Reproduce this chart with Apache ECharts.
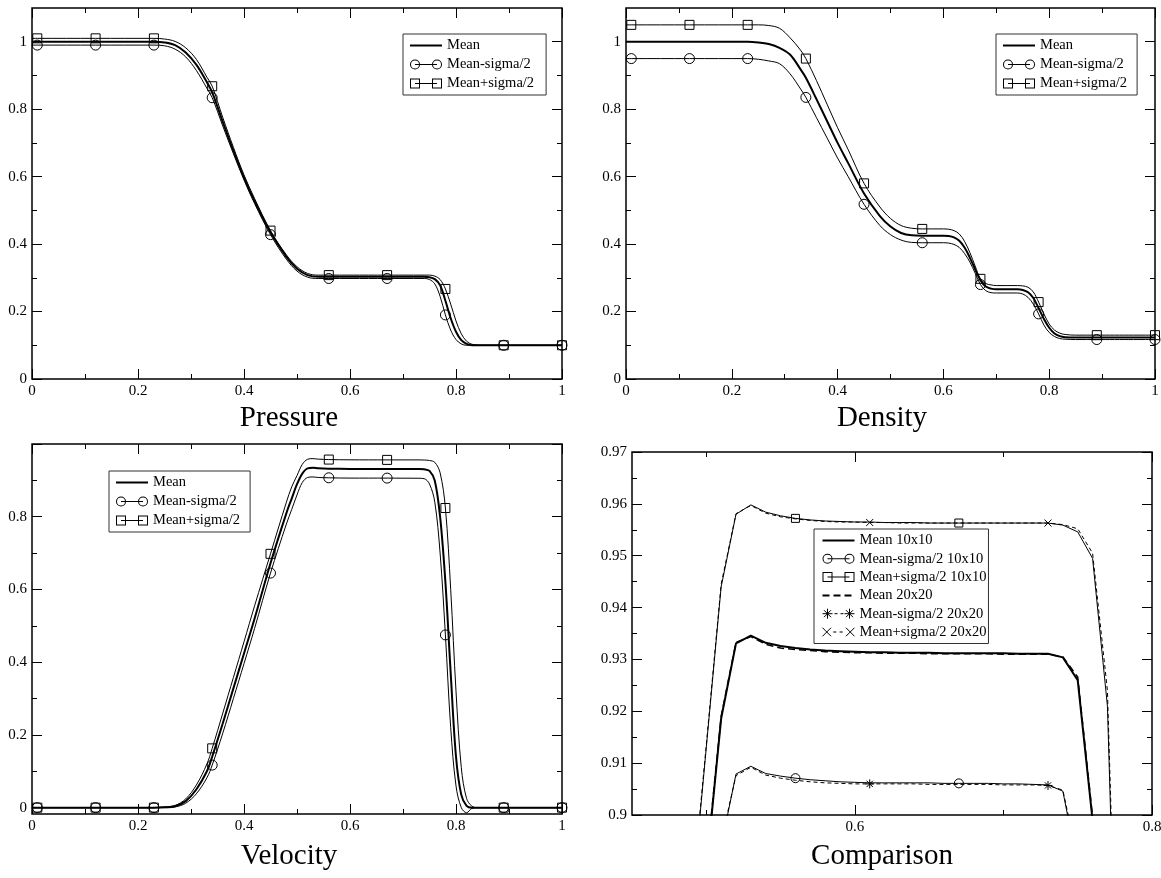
<!DOCTYPE html>
<html><head><meta charset="utf-8">
<script src="https://cdn.jsdelivr.net/npm/echarts@6/dist/echarts.min.js"></script>
<style>html,body{margin:0;padding:0;background:#fff;}#c{width:1161px;height:878px;}</style>
</head><body><div id="c"></div>
<script>
// ---------------- DATA ----------------
const MARK_X = [0.01, 0.12, 0.23, 0.34, 0.45, 0.56, 0.67, 0.78, 0.89, 1.0];

const P_X     = [0, 0.01, 0.12, 0.23, 0.25, 0.27, 0.29, 0.31, 0.33, 0.34, 0.36, 0.38, 0.40, 0.42, 0.45, 0.48, 0.50, 0.52, 0.54, 0.56, 0.60, 0.67, 0.70, 0.74, 0.75, 0.76, 0.77, 0.78, 0.79, 0.80, 0.81, 0.82, 0.83, 0.85, 0.89, 0.95, 1.0];
const P_MEAN  = [1, 1, 1, 1, 0.998, 0.99, 0.968, 0.932, 0.88, 0.85, 0.762, 0.677, 0.597, 0.527, 0.435, 0.362, 0.327, 0.308, 0.303, 0.303, 0.303, 0.303, 0.303, 0.303, 0.302, 0.296, 0.278, 0.232, 0.18, 0.14, 0.115, 0.104, 0.1, 0.1, 0.1, 0.1, 0.1];
const P_MINUS = [0.99, 0.99, 0.99, 0.99, 0.988, 0.978, 0.955, 0.915, 0.862, 0.834, 0.75, 0.668, 0.59, 0.52, 0.428, 0.355, 0.32, 0.302, 0.298, 0.298, 0.298, 0.298, 0.298, 0.298, 0.295, 0.282, 0.245, 0.19, 0.145, 0.117, 0.104, 0.1, 0.1, 0.1, 0.1, 0.1, 0.1];
const P_PLUS  = [1.01, 1.01, 1.01, 1.01, 1.008, 1.001, 0.982, 0.948, 0.895, 0.868, 0.775, 0.687, 0.605, 0.535, 0.44, 0.368, 0.333, 0.313, 0.308, 0.308, 0.308, 0.308, 0.308, 0.308, 0.308, 0.305, 0.295, 0.267, 0.222, 0.172, 0.134, 0.112, 0.103, 0.1, 0.1, 0.1, 0.1];

const D_X     = [0, 0.01, 0.12, 0.23, 0.25, 0.27, 0.29, 0.31, 0.33, 0.34, 0.36, 0.38, 0.40, 0.42, 0.45, 0.48, 0.50, 0.52, 0.54, 0.56, 0.60, 0.61, 0.62, 0.63, 0.64, 0.65, 0.66, 0.67, 0.68, 0.69, 0.70, 0.74, 0.75, 0.76, 0.77, 0.78, 0.79, 0.80, 0.81, 0.82, 0.83, 0.85, 0.89, 1.0];
const D_MEAN  = [1, 1, 1, 1, 0.998, 0.993, 0.982, 0.962, 0.918, 0.893, 0.83, 0.765, 0.70, 0.64, 0.55, 0.483, 0.452, 0.433, 0.426, 0.425, 0.425, 0.424, 0.42, 0.41, 0.39, 0.36, 0.325, 0.293, 0.274, 0.268, 0.266, 0.266, 0.264, 0.257, 0.24, 0.21, 0.178, 0.152, 0.135, 0.127, 0.124, 0.123, 0.123, 0.123];
const D_MINUS = [0.95, 0.95, 0.95, 0.95, 0.948, 0.943, 0.935, 0.905, 0.86, 0.835, 0.775, 0.715, 0.655, 0.6, 0.518, 0.455, 0.428, 0.412, 0.405, 0.404, 0.404, 0.403, 0.399, 0.39, 0.372, 0.347, 0.314, 0.28, 0.262, 0.256, 0.255, 0.255, 0.252, 0.242, 0.222, 0.193, 0.16, 0.138, 0.126, 0.12, 0.118, 0.117, 0.117, 0.117];
const D_PLUS  = [1.05, 1.05, 1.05, 1.05, 1.05, 1.048, 1.04, 1.012, 0.975, 0.95, 0.885, 0.815, 0.745, 0.68, 0.58, 0.51, 0.476, 0.455, 0.447, 0.445, 0.445, 0.444, 0.44, 0.43, 0.408, 0.375, 0.335, 0.297, 0.283, 0.279, 0.277, 0.277, 0.276, 0.272, 0.258, 0.228, 0.193, 0.163, 0.145, 0.136, 0.132, 0.13, 0.13, 0.13];

const V_X     = [0, 0.01, 0.12, 0.23, 0.25, 0.27, 0.29, 0.31, 0.33, 0.34, 0.36, 0.38, 0.40, 0.42, 0.45, 0.48, 0.49, 0.50, 0.51, 0.52, 0.53, 0.54, 0.56, 0.60, 0.67, 0.70, 0.73, 0.74, 0.75, 0.76, 0.77, 0.78, 0.79, 0.80, 0.81, 0.82, 0.83, 0.84, 0.85, 0.89, 0.95, 1.0];
const V_MEAN  = [0, 0, 0, 0, 0.001, 0.004, 0.018, 0.05, 0.1, 0.14, 0.232, 0.328, 0.424, 0.52, 0.672, 0.81, 0.85, 0.8895, 0.9186, 0.9331, 0.9346, 0.9332, 0.9322, 0.9315, 0.9312, 0.9312, 0.9311, 0.9304, 0.926, 0.899, 0.80, 0.62, 0.37, 0.14, 0.035, 0.005, 0, 0, 0, 0, 0, 0];
const V_MINUS = [0, 0, 0, 0, 0, 0.002, 0.012, 0.038, 0.082, 0.117, 0.205, 0.3, 0.396, 0.493, 0.645, 0.78, 0.82, 0.86, 0.894, 0.9079, 0.9094, 0.908, 0.9071, 0.9062, 0.9062, 0.906, 0.9058, 0.9046, 0.89, 0.84, 0.70, 0.475, 0.22, 0.06, 0.0, -0.014, -0.002, 0, 0, 0, 0, 0];
const V_PLUS  = [0, 0, 0, 0, 0.002, 0.006, 0.024, 0.062, 0.12, 0.163, 0.26, 0.358, 0.456, 0.555, 0.698, 0.84, 0.882, 0.913, 0.944, 0.958, 0.9598, 0.9584, 0.9572, 0.9565, 0.9563, 0.9563, 0.9563, 0.9559, 0.9546, 0.9495, 0.921, 0.824, 0.60, 0.32, 0.11, 0.025, 0.004, 0, 0, 0, 0, 0];

const C_X       = [0.48, 0.49, 0.50, 0.51, 0.52, 0.53, 0.54, 0.55, 0.56, 0.57, 0.58, 0.59, 0.60, 0.61, 0.62, 0.63, 0.64, 0.65, 0.66, 0.67, 0.68, 0.69, 0.70, 0.71, 0.72, 0.73, 0.74, 0.75, 0.76, 0.77, 0.78, 0.79];
const C_MEAN10  = [0.81, 0.85, 0.8895, 0.9186, 0.9331, 0.9346, 0.9332, 0.9326, 0.9322, 0.9319, 0.9317, 0.9316, 0.9315, 0.9314, 0.9314, 0.9313, 0.9313, 0.9313, 0.9312, 0.9312, 0.9312, 0.9312, 0.9312, 0.9311, 0.9311, 0.9311, 0.9304, 0.926, 0.899, 0.80, 0.62, 0.37];
const C_MINUS10 = [0.78, 0.82, 0.86, 0.894, 0.9079, 0.9094, 0.908, 0.9075, 0.9071, 0.9068, 0.9066, 0.9064, 0.9063, 0.9062, 0.9062, 0.9062, 0.9062, 0.9062, 0.9061, 0.9061, 0.9061, 0.9061, 0.906, 0.906, 0.9059, 0.9058, 0.9046, 0.89, 0.84, 0.70, 0.475, 0.22];
const C_PLUS10  = [0.84, 0.882, 0.913, 0.944, 0.958, 0.9598, 0.9584, 0.9577, 0.9572, 0.9569, 0.9567, 0.9566, 0.9565, 0.9565, 0.9564, 0.9564, 0.9564, 0.9563, 0.9563, 0.9563, 0.9563, 0.9563, 0.9563, 0.9563, 0.9563, 0.9563, 0.9559, 0.9546, 0.9495, 0.921, 0.824, 0.60];
const C_MEAN20  = [0.811, 0.851, 0.8902, 0.919, 0.9333, 0.9344, 0.9329, 0.9322, 0.9319, 0.9317, 0.9315, 0.9314, 0.9313, 0.9313, 0.9312, 0.9312, 0.9312, 0.9311, 0.9311, 0.9311, 0.9311, 0.9311, 0.931, 0.931, 0.931, 0.931, 0.9305, 0.9266, 0.8996, 0.802, 0.623, 0.375];
const C_MINUS20 = [0.781, 0.821, 0.861, 0.895, 0.9076, 0.9092, 0.9077, 0.9071, 0.9067, 0.9064, 0.9062, 0.9061, 0.906, 0.906, 0.906, 0.906, 0.906, 0.9059, 0.9059, 0.9059, 0.9059, 0.9059, 0.9058, 0.9058, 0.9058, 0.9057, 0.9048, 0.8915, 0.842, 0.705, 0.48, 0.225];
const C_PLUS20  = [0.841, 0.883, 0.9135, 0.9445, 0.9581, 0.9597, 0.9582, 0.9575, 0.9571, 0.9568, 0.9566, 0.9565, 0.9565, 0.9564, 0.9564, 0.9563, 0.9563, 0.9563, 0.9563, 0.9563, 0.9563, 0.9563, 0.9563, 0.9563, 0.9563, 0.9563, 0.956, 0.9552, 0.9505, 0.924, 0.828, 0.61];
const C_MARK10 = [0.56, 0.67, 0.78];
const C_MARK20 = [0.49, 0.61, 0.73];

// tick values
const UNIT_MAJOR = [0, 0.2, 0.4, 0.6, 0.8, 1];
const UNIT_MINOR = [0.1, 0.3, 0.5, 0.7, 0.9];
const V_YLABELS  = [0, 0.2, 0.4, 0.6, 0.8];
const C_XMAJOR = [0.6, 0.8];
const C_XMINOR = [0.5, 0.7];
const C_YMAJOR = [0.9, 0.91, 0.92, 0.93, 0.94, 0.95, 0.96, 0.97];
const C_YMINOR = [0.905, 0.915, 0.925, 0.935, 0.945, 0.955, 0.965];

const TITLES = ['Pressure', 'Density', 'Velocity', 'Comparison'];
const NAMES3 = ['Mean', 'Mean-sigma/2', 'Mean+sigma/2'];
const NAMES6 = ['Mean 10x10', 'Mean-sigma/2 10x10', 'Mean+sigma/2 10x10', 'Mean 20x20', 'Mean-sigma/2 20x20', 'Mean+sigma/2 20x20'];

// ---------------- LAYOUT / STYLE ----------------
const FONT = 'Liberation Serif';
const GRIDS = [
  {left: 32, top: 8, width: 530, height: 371},
  {left: 626, top: 8, width: 529, height: 371},
  {left: 32, top: 444, width: 530, height: 370},
  {left: 632, top: 452, width: 520, height: 363}
];
const SPECS = [
  {x: {min: 0, max: 1, major: UNIT_MAJOR, minor: UNIT_MINOR, labels: UNIT_MAJOR},
   y: {min: 0, max: 1.1, major: UNIT_MAJOR, minor: UNIT_MINOR, labels: UNIT_MAJOR}},
  {x: {min: 0, max: 1, major: UNIT_MAJOR, minor: UNIT_MINOR, labels: UNIT_MAJOR},
   y: {min: 0, max: 1.1, major: UNIT_MAJOR, minor: UNIT_MINOR, labels: UNIT_MAJOR}},
  {x: {min: 0, max: 1, major: UNIT_MAJOR, minor: UNIT_MINOR, labels: UNIT_MAJOR},
   y: {min: -0.0175, max: 1.0, major: UNIT_MAJOR, minor: UNIT_MINOR, labels: V_YLABELS}},
  {x: {min: 0.45, max: 0.8, major: C_XMAJOR, minor: C_XMINOR, labels: C_XMAJOR},
   y: {min: 0.9, max: 0.97, major: C_YMAJOR, minor: C_YMINOR, labels: C_YMAJOR}}
];

function fmt(v) { return String(Math.round(v * 1000) / 1000); }

const xAxes = [], yAxes = [], axIdx = [];
function pushAxes(list, gi, pos, spec, isX) {
  const primary = (pos === 'bottom' || pos === 'left');
  const base = {gridIndex: gi, type: 'value', min: spec.min, max: spec.max, position: pos,
    axisLine: {show: false, onZero: false}, splitLine: {show: false}, silent: true};
  const idx = list.length;
  list.push(Object.assign({}, base, {
    axisTick: {show: true, inside: true, length: 10, customValues: spec.major, lineStyle: {color: '#000', width: 1}},
    axisLabel: primary ? {show: true, customValues: spec.labels, formatter: fmt, color: '#000',
      fontFamily: FONT, fontSize: 15, margin: 5} : {show: false}
  }));
  list.push(Object.assign({}, base, {
    axisTick: {show: true, inside: true, length: 5, customValues: spec.minor, lineStyle: {color: '#000', width: 1}},
    axisLabel: {show: false}
  }));
  return idx;
}
SPECS.forEach((s, gi) => {
  const xi = pushAxes(xAxes, gi, 'bottom', s.x, true);
  pushAxes(xAxes, gi, 'top', s.x, true);
  const yi = pushAxes(yAxes, gi, 'left', s.y, false);
  pushAxes(yAxes, gi, 'right', s.y, false);
  axIdx.push({x: xi, y: yi});
});

const SYM = {
  circ: 'circle',
  sq: 'rect',
  star: 'path://M0,5L10,5M5,0L5,10M1.5,1.5L8.5,8.5M1.5,8.5L8.5,1.5',
  x: 'path://M0,0L10,10M0,10L10,0'
};
const ICON = {
  circ: 'path://M0,5A5,5,0,1,1,10,5A5,5,0,1,1,0,5ZM1,5A4,4,0,1,0,9,5A4,4,0,1,0,1,5ZM22,5A5,5,0,1,1,32,5A5,5,0,1,1,22,5ZM23,5A4,4,0,1,0,31,5A4,4,0,1,0,23,5ZM5,4.5L27,4.5L27,5.5L5,5.5Z',
  sq: 'path://M0,0L10,0L10,10L0,10ZM1,1L1,9L9,9L9,1ZM22,0L32,0L32,10L22,10ZM23,1L23,9L31,9L31,1ZM5,4.5L27,4.5L27,5.5L5,5.5Z',
  star: 'path://M0,5L10,5M5,0L5,10M1.5,1.5L8.5,8.5M1.5,8.5L8.5,1.5M12,5L15,5M18,5L21,5M22,5L32,5M27,0L27,10M23.5,1.5L30.5,8.5M23.5,8.5L30.5,1.5',
  x: 'path://M1,1L9,9M1,9L9,1M11,5L14,5M17,5L20,5M23,1L31,9M23,9L31,1'
};

function curve(name, gi, xs, ys, o) {
  const marks = o.marks || [];
  return {
    name: name, type: 'line', xAxisIndex: axIdx[gi].x, yAxisIndex: axIdx[gi].y,
    data: xs.map((x, i) => marks.indexOf(x) >= 0 ? {value: [x, ys[i]]} : {value: [x, ys[i]], symbol: 'none'}),
    symbol: o.sym ? SYM[o.sym] : 'none', symbolSize: o.size || 9,
    showSymbol: !!o.sym, showAllSymbol: true,
    smooth: o.smooth || false,
    lineStyle: {color: '#000', width: o.width || 1, type: o.dash || 'solid'},
    itemStyle: {color: 'none', borderColor: '#000', borderWidth: 1},
    emphasis: {disabled: true}, clip: true, z: o.z || 2
  };
}

const series = [];
const SM = 0.35;
[[P_X, P_MEAN, P_MINUS, P_PLUS], [D_X, D_MEAN, D_MINUS, D_PLUS], [V_X, V_MEAN, V_MINUS, V_PLUS]].forEach((d, gi) => {
  series.push(curve(NAMES3[0], gi, d[0], d[1], {width: 2, smooth: SM, z: 3}));
  series.push(curve(NAMES3[1], gi, d[0], d[2], {sym: 'circ', size: 10, marks: MARK_X, smooth: SM}));
  series.push(curve(NAMES3[2], gi, d[0], d[3], {sym: 'sq', size: 9, marks: MARK_X, smooth: SM}));
});
series.push(curve(NAMES6[0], 3, C_X, C_MEAN10, {width: 2}));
series.push(curve(NAMES6[1], 3, C_X, C_MINUS10, {sym: 'circ', size: 9, marks: C_MARK10}));
series.push(curve(NAMES6[2], 3, C_X, C_PLUS10, {sym: 'sq', size: 8, marks: C_MARK10}));
series.push(curve(NAMES6[3], 3, C_X, C_MEAN20, {width: 1.5, dash: [7, 4]}));
series.push(curve(NAMES6[4], 3, C_X, C_MINUS20, {sym: 'star', size: 9, marks: C_MARK20, dash: [4, 3]}));
series.push(curve(NAMES6[5], 3, C_X, C_PLUS20, {sym: 'x', size: 7, marks: C_MARK20, dash: [4, 3]}));

const FILLED = {color: '#000', borderWidth: 0};
const STROKED = {color: 'none', borderColor: '#000', borderWidth: 1};
const PLAIN = {color: 'none', borderColor: 'none', borderWidth: 0};
function legendBox(left, top, items, gap, padRight) {
  return {
    left: left, top: top, orient: 'vertical', selectedMode: false,
    backgroundColor: '#fff', borderColor: '#333', borderWidth: 1, borderRadius: 0,
    padding: [4, padRight, 4, 6], itemGap: gap, itemWidth: 32, itemHeight: 10,
    textStyle: {fontFamily: FONT, fontSize: 14.5, color: '#000'},
    data: items
  };
}
const L3 = [{name: NAMES3[0], itemStyle: PLAIN}, {name: NAMES3[1], icon: ICON.circ, itemStyle: FILLED}, {name: NAMES3[2], icon: ICON.sq, itemStyle: FILLED}];
const L6 = [
  {name: NAMES6[0], itemStyle: PLAIN}, {name: NAMES6[1], icon: ICON.circ, itemStyle: FILLED}, {name: NAMES6[2], icon: ICON.sq, itemStyle: FILLED},
  {name: NAMES6[3], itemStyle: PLAIN}, {name: NAMES6[4], icon: ICON.star, itemStyle: STROKED}, {name: NAMES6[5], icon: ICON.x, itemStyle: STROKED}
];

const TITLE_POS = [[289, 418], [882, 418], [289, 856], [882, 856]];
const graphic = TITLES.map((t, i) => ({
  type: 'text', x: TITLE_POS[i][0], y: TITLE_POS[i][1], silent: true,
  style: {text: t, fill: '#000', fontFamily: FONT, fontSize: 29,
    align: 'center', verticalAlign: 'middle', textAlign: 'center', textVerticalAlign: 'middle'}
}));

const option = {
  animation: false,
  backgroundColor: '#fff',
  grid: GRIDS.map(g => Object.assign({show: true, borderColor: '#000', borderWidth: 1.5,
    backgroundColor: 'transparent', containLabel: false, outerBoundsMode: 'none'}, g)),
  xAxis: xAxes,
  yAxis: yAxes,
  legend: [legendBox(403, 34, L3, 4, 12), legendBox(996, 34, L3, 4, 10), legendBox(109, 471, L3, 4, 10), legendBox(814, 529, L6, 3.3, 2)],
  graphic: graphic,
  series: series
};
const chart = echarts.init(document.getElementById('c'), null, {renderer: 'canvas'});
chart.setOption(option);
</script>
</body></html>
